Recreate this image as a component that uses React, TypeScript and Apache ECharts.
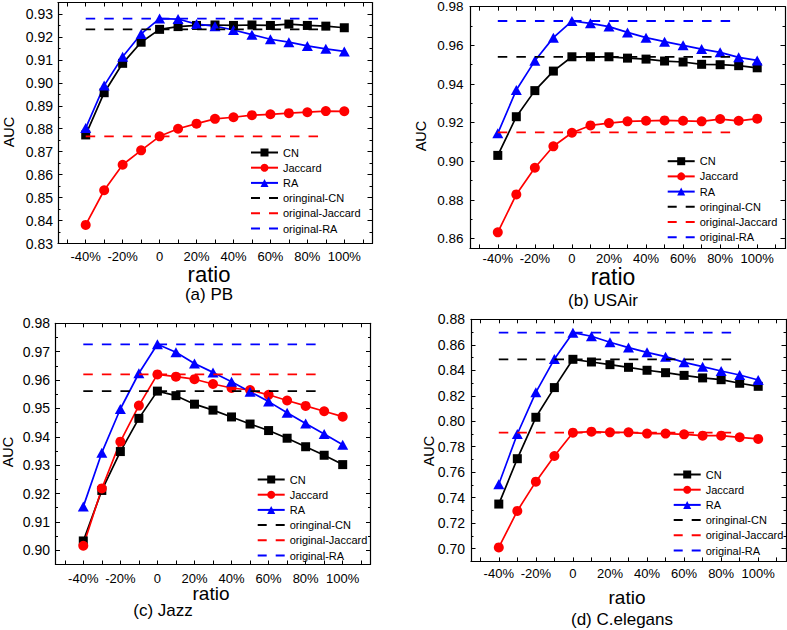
import React, { useEffect, useRef } from "react";
import * as echarts from "echarts";

const FONT = '"Liberation Sans", Arial, Helvetica, sans-serif';

// x values (ratio, %)
const ratios = [-40, -30, -20, -10, 0, 10, 20, 30, 40, 50, 60, 70, 80, 90, 100];
const xTickValues = [-50, -40, -30, -20, -10, 0, 10, 20, 30, 40, 50, 60, 70, 80, 90, 100, 110];
const xLabelValues = [-40, -20, 0, 20, 40, 60, 80, 100];
const origSpan = [-40, 90];

const seriesNames = ["CN", "Jaccard", "RA"];
const origNames = ["oringinal-CN", "original-Jaccard", "original-RA"];
const panelTitles = ["(a) PB", "(b) USAir", "(c) Jazz", "(d) C.elegans"];

// (a) PB
const cnPB = [0.8773, 0.8957, 0.9085, 0.9177, 0.9233, 0.9245, 0.925, 0.9252, 0.925, 0.9252, 0.925, 0.9256, 0.925, 0.9247, 0.924];
const jacPB = [0.8381, 0.8532, 0.8643, 0.8706, 0.8767, 0.88, 0.8822, 0.8843, 0.885, 0.8859, 0.8863, 0.8868, 0.8872, 0.8877, 0.8876];
const raPB = [0.8803, 0.8988, 0.9114, 0.9213, 0.928, 0.9278, 0.9256, 0.9247, 0.923, 0.921, 0.919, 0.9177, 0.9161, 0.9148, 0.9137];
// (b) USAir
const cnUS = [0.9031, 0.9231, 0.9366, 0.9467, 0.9541, 0.9541, 0.9541, 0.9534, 0.9529, 0.9519, 0.9514, 0.9502, 0.95, 0.9495, 0.9484];
const jacUS = [0.8633, 0.8829, 0.8967, 0.9078, 0.9148, 0.9186, 0.9198, 0.9207, 0.921, 0.9212, 0.921, 0.9207, 0.9219, 0.921, 0.9221];
const raUS = [0.9145, 0.9369, 0.952, 0.964, 0.9726, 0.9714, 0.9697, 0.9667, 0.964, 0.9619, 0.96, 0.9581, 0.9564, 0.9538, 0.9522];
// (c) Jazz
const cnJZ = [0.9033, 0.9211, 0.9348, 0.9465, 0.9561, 0.9545, 0.9515, 0.9494, 0.947, 0.9445, 0.9422, 0.9395, 0.9365, 0.9335, 0.9302];
const jacJZ = [0.9016, 0.9218, 0.9383, 0.951, 0.962, 0.9612, 0.9603, 0.9586, 0.9572, 0.9565, 0.9548, 0.9528, 0.9509, 0.949, 0.9471];
const raJZ = [0.9154, 0.9344, 0.9498, 0.9624, 0.9726, 0.9698, 0.9658, 0.9627, 0.9594, 0.9559, 0.9524, 0.9485, 0.9447, 0.941, 0.9372];
// (d) C.elegans
const cnCE = [0.735, 0.7706, 0.8031, 0.8264, 0.8486, 0.8465, 0.8444, 0.8423, 0.84, 0.8381, 0.836, 0.834, 0.8326, 0.8298, 0.8274];
const jacCE = [0.701, 0.7296, 0.7526, 0.7727, 0.791, 0.7918, 0.7913, 0.7913, 0.7903, 0.7903, 0.7897, 0.7887, 0.7887, 0.7874, 0.7861];
const raCE = [0.7505, 0.79, 0.8227, 0.8488, 0.8695, 0.8667, 0.862, 0.8578, 0.8541, 0.8507, 0.8462, 0.8428, 0.8394, 0.8363, 0.8324];

// original (unperturbed) values per panel
const origCN = [0.9233, 0.9541, 0.9561, 0.8486];
const origJac = [0.8767, 0.915, 0.962, 0.791];
const origRA = [0.928, 0.9726, 0.9726, 0.8695];

// y tick labels per panel
const yLabelsPB = [0.83, 0.84, 0.85, 0.86, 0.87, 0.88, 0.89, 0.9, 0.91, 0.92, 0.93];
const yLabelsUS = [0.86, 0.88, 0.9, 0.92, 0.94, 0.96, 0.98];
const yLabelsJZ = [0.9, 0.91, 0.92, 0.93, 0.94, 0.95, 0.96, 0.97, 0.98];
const yLabelsCE = [0.7, 0.72, 0.74, 0.76, 0.78, 0.8, 0.82, 0.84, 0.86, 0.88];

const panelData = [
  [cnPB, jacPB, raPB],
  [cnUS, jacUS, raUS],
  [cnJZ, jacJZ, raJZ],
  [cnCE, jacCE, raCE],
];
const panelYLabels = [yLabelsPB, yLabelsUS, yLabelsJZ, yLabelsCE];
const panelYRange = [
  [0.83, 0.935],
  [0.855, 0.98],
  [0.895, 0.98],
  [0.69, 0.88],
];

// layout (pixels)
const layout = [
  { left: 58, top: 2.5, width: 314, height: 241, xMargin: 6, yMargin: 5, yFont: 14, legL: 250, legT: 147, ratio: [209, 274, 22], cap: [209, 294, 17], auc: [9, 132] },
  { left: 470, top: 6.7, width: 315, height: 241.7, xMargin: 4, yMargin: 6.5, yFont: 13.5, legL: 666.7, legT: 155.7, ratio: [613, 277, 23], cap: [603, 300, 17], auc: [421, 136] },
  { left: 55.5, top: 323.3, width: 315, height: 241.2, xMargin: 7.5, yMargin: 5.5, yFont: 14, legL: 256.7, legT: 474, ratio: [211, 593, 19], cap: [163, 610, 17], auc: [8, 452] },
  { left: 471, top: 319.3, width: 315, height: 242.1, xMargin: 5.5, yMargin: 6, yFont: 14, legL: 672.7, legT: 469, ratio: [627, 597, 19], cap: [622, 619, 17], auc: [429, 451] },
];

const colors = ["#000000", "#ff0000", "#0000ff"];
const symbols = ["rect", "circle", "triangle"];
const symbolSizes: any[] = [9, 10, [11, 10]];
const DASH_ICON = "path://M0,4h9v2h-9zM18,4h9v2h-9z";

function buildOption() {
  const grid: any[] = [];
  const xAxis: any[] = [];
  const yAxis: any[] = [];
  const series: any[] = [];
  const legend: any[] = [];
  const graphics: any[] = [];

  const axisLineStyle = { color: "#000", width: 1.2 };
  const tickLineStyle = { color: "#000", width: 1 };

  layout.forEach((L, i) => {
    grid.push({ left: L.left, top: L.top, width: L.width, height: L.height, outerBoundsMode: "none", containLabel: false });
    const [ymin, ymax] = panelYRange[i];
    const yLabels = panelYLabels[i];
    const yMinor = yLabels.slice(0, -1).map((v, k) => (v + yLabels[k + 1]) / 2);

    const xBase = {
      type: "value",
      gridIndex: i,
      min: -55,
      max: 115,
      splitLine: { show: false },
    };
    xAxis.push({
      ...xBase,
      position: "bottom",
      axisLine: { show: true, onZero: false, lineStyle: axisLineStyle },
      axisTick: { show: true, inside: true, length: 4, customValues: xTickValues, lineStyle: tickLineStyle },
      axisLabel: {
        show: true,
        customValues: xLabelValues,
        formatter: (v: number) => (v === 0 ? "0" : `${v}%`),
        color: "#000",
        fontSize: 13,
        fontFamily: FONT,
        margin: L.xMargin,
      },
    });
    xAxis.push({
      ...xBase,
      position: "top",
      axisLine: { show: true, onZero: false, lineStyle: axisLineStyle },
      axisTick: { show: true, inside: true, length: 4, customValues: xTickValues, lineStyle: tickLineStyle },
      axisLabel: { show: false },
    });

    const yBase = {
      type: "value",
      gridIndex: i,
      min: ymin,
      max: ymax,
      splitLine: { show: false },
    };
    yAxis.push({
      ...yBase,
      position: "left",
      axisLine: { show: true, onZero: false, lineStyle: axisLineStyle },
      axisTick: { show: true, inside: true, length: 4.5, customValues: yLabels, lineStyle: tickLineStyle },
      axisLabel: {
        show: true,
        customValues: yLabels,
        formatter: (v: number) => v.toFixed(2),
        color: "#000",
        fontSize: L.yFont,
        fontFamily: FONT,
        margin: L.yMargin,
      },
    });
    yAxis.push({
      ...yBase,
      position: "left",
      axisLine: { show: false, onZero: false },
      axisTick: { show: true, inside: true, length: 2.5, customValues: yMinor, lineStyle: tickLineStyle },
      axisLabel: { show: false },
    });
    yAxis.push({
      ...yBase,
      position: "right",
      axisLine: { show: true, onZero: false, lineStyle: axisLineStyle },
      axisTick: { show: true, inside: true, length: 4.5, customValues: yLabels, lineStyle: tickLineStyle },
      axisLabel: { show: false },
    });
    yAxis.push({
      ...yBase,
      position: "right",
      axisLine: { show: false, onZero: false },
      axisTick: { show: true, inside: true, length: 2.5, customValues: yMinor, lineStyle: tickLineStyle },
      axisLabel: { show: false },
    });

    const xIdx = i * 2;
    const yIdx = i * 4;
    panelData[i].forEach((vals, s) => {
      series.push({
        type: "line",
        name: seriesNames[s],
        xAxisIndex: xIdx,
        yAxisIndex: yIdx,
        data: ratios.map((r, k) => [r, vals[k]]),
        color: colors[s],
        symbol: symbols[s],
        symbolSize: symbolSizes[s],
        showSymbol: true,
        lineStyle: { color: colors[s], width: 1.7 },
        itemStyle: { color: colors[s] },
        emphasis: { disabled: true },
        z: 3,
      });
    });
    const origVals = [origCN[i], origJac[i], origRA[i]];
    origVals.forEach((v, s) => {
      series.push({
        type: "line",
        name: origNames[s],
        xAxisIndex: xIdx,
        yAxisIndex: yIdx,
        data: origSpan.map((x) => [x, v]),
        color: colors[s],
        symbol: "none",
        showSymbol: false,
        lineStyle: { color: colors[s], width: 1.8, type: [9.5, 9.07] },
        itemStyle: { color: colors[s] },
        emphasis: { disabled: true },
        z: 4,
      });
    });

    legend.push({
      orient: "vertical",
      left: L.legL,
      top: L.legT,
      padding: 0,
      itemWidth: 27,
      itemHeight: 10,
      itemGap: 4.2,
      selectedMode: false,
      textStyle: { fontSize: 11, color: "#000", fontFamily: FONT },
      data: [
        ...seriesNames,
        ...origNames.map((n) => ({ name: n, icon: DASH_ICON })),
      ],
    });

    graphics.push({
      type: "text",
      x: L.ratio[0],
      y: L.ratio[1],
      style: { text: "ratio", fontSize: L.ratio[2], fontFamily: FONT, fill: "#000", align: "center", verticalAlign: "middle" },
    });
    graphics.push({
      type: "text",
      x: L.cap[0],
      y: L.cap[1],
      style: { text: panelTitles[i], fontSize: L.cap[2], fontFamily: FONT, fill: "#000", align: "center", verticalAlign: "middle" },
    });
    graphics.push({
      type: "text",
      x: L.auc[0],
      y: L.auc[1],
      rotation: Math.PI / 2,
      style: { text: "AUC", fontSize: 14.5, fontFamily: FONT, fill: "#000", align: "center", verticalAlign: "middle" },
    });
  });

  return {
    animation: false,
    backgroundColor: "#ffffff",
    textStyle: { fontFamily: FONT },
    grid,
    xAxis,
    yAxis,
    series,
    legend,
    graphic: { elements: graphics },
  };
}

export default function App() {
  const ref = useRef<HTMLDivElement>(null);
  useEffect(() => {
    if (!ref.current) return;
    const chart = echarts.init(ref.current, undefined, { renderer: "svg" });
    chart.setOption(buildOption() as any);
    return () => chart.dispose();
  }, []);
  return (
    <div
      ref={ref}
      style={{ position: "absolute", left: 0, top: 0, width: 787, height: 630, background: "#fff" }}
    />
  );
}
